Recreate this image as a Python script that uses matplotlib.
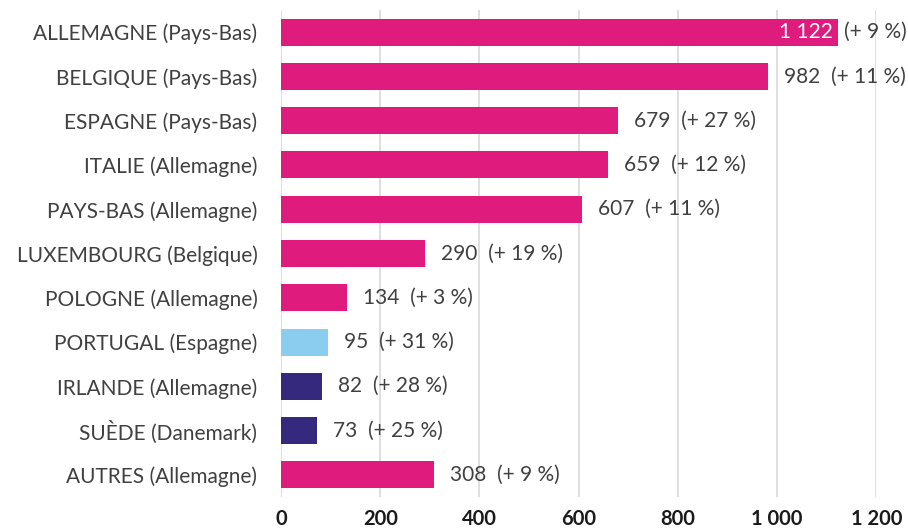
import matplotlib
matplotlib.use("Agg")
import matplotlib.pyplot as plt

# data
categories = ["ALLEMAGNE (Pays-Bas)", "BELGIQUE (Pays-Bas)", "ESPAGNE (Pays-Bas)",
              "ITALIE (Allemagne)", "PAYS-BAS (Allemagne)", "LUXEMBOURG (Belgique)",
              "POLOGNE (Allemagne)", "PORTUGAL (Espagne)", "IRLANDE (Allemagne)",
              "SUÈDE (Danemark)", "AUTRES (Allemagne)"]
values = [1122, 982, 679, 659, 607, 290, 134, 95, 82, 73, 308]
growth = ["+ 9 %", "+ 11 %", "+ 27 %", "+ 12 %", "+ 11 %", "+ 19 %",
          "+ 3 %", "+ 31 %", "+ 28 %", "+ 25 %", "+ 9 %"]
value_labels = ["1 122", "982", "679", "659", "607", "290", "134", "95", "82", "73", "308"]
xticks = [0, 200, 400, 600, 800, 1000, 1200]
xtick_labels = ["0", "200", "400", "600", "800", "1 000", "1 200"]

pink = "#DF1C7E"
light_blue = "#8ACDEE"
navy = "#35297D"
colors = [pink] * 7 + [light_blue, navy, navy, pink]

plt.rcParams["font.family"] = ["Lato", "DejaVu Sans"]

fig = plt.figure(figsize=(9.08, 5.29), dpi=100)
ax = fig.add_axes([0.3095, 0.0605, 0.6555, 0.9205])

ypos = list(range(len(categories)))
ax.barh(ypos, values, height=0.61, color=colors, zorder=3)
ax.set_ylim(len(categories) - 0.5, -0.5)
ax.set_xlim(0, 1200)

ax.set_yticks(ypos)
ax.set_yticklabels(categories, fontsize=15, color="#404040")
ax.tick_params(axis="y", length=0, pad=17)
ax.set_xticks(xticks)
ax.set_xticklabels(xtick_labels, fontsize=14.5, color="#1a1a1a", fontweight="bold")
ax.tick_params(axis="x", length=0, pad=9)

ax.grid(axis="x", color="#d9d9d9", linewidth=1.2, zorder=0)
for s in ax.spines.values():
    s.set_visible(False)

for i, v in enumerate(values):
    if i == 0:
        ax.text(v - 10, i, value_labels[i], ha="right", va="center",
                fontsize=15, color="white", zorder=4)
        ax.text(v + 14, i, "(" + growth[i] + ")", ha="left", va="center",
                fontsize=15, color="#404040", zorder=4)
    else:
        ax.text(v + 32, i, value_labels[i] + "  (" + growth[i] + ")", ha="left",
                va="center", fontsize=15, color="#404040", zorder=4)

fig.savefig("out.png", dpi=100)
